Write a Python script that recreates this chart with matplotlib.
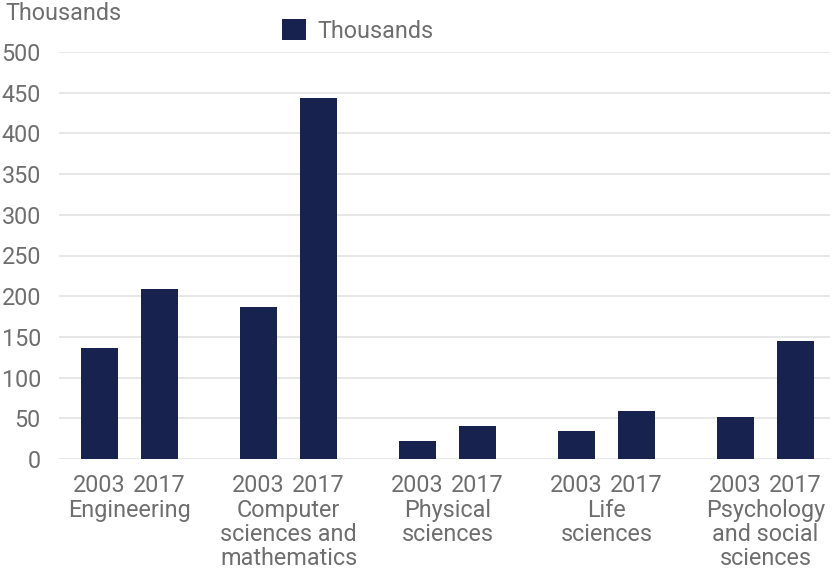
import numpy as np
import matplotlib.pyplot as plt

plt.rcParams['font.family'] = ['Roboto', 'DejaVu Sans']

categories = ['Engineering', 'Computer\nsciences and\nmathematics', 'Physical\nsciences',
              'Life\nsciences', 'Psychology\nand social\nsciences']
years = ['2003', '2017']
values_2003 = [136, 187, 22, 34, 52]
values_2017 = [209, 444, 40, 59, 145]

navy = '#18224f'
grey = '#6e6e6e'
fs = 16.8

fig = plt.figure(figsize=(8.35, 5.71), dpi=100)
ax = fig.add_axes([59 / 835, 1 - 459 / 571, 771 / 835, 407 / 571])

group_gap = 2.65
centers = np.arange(len(categories)) * group_gap
x03 = centers - 0.5
x17 = centers + 0.5

ax.bar(x03, values_2003, width=0.63, color=navy, label='Thousands', zorder=3)
ax.bar(x17, values_2017, width=0.63, color=navy, zorder=3)

ax.set_ylim(0, 500)
ax.set_xlim(-1.175, 11.675)
ax.set_yticks(range(0, 501, 50))
ax.grid(axis='y', color='#e3e3e3', linewidth=1.2, zorder=0)
for s in ax.spines.values():
    s.set_visible(False)
ax.tick_params(axis='y', length=0, pad=13, labelsize=fs, labelcolor=grey)
ax.tick_params(axis='x', length=0, pad=11, labelsize=fs, labelcolor=grey)

ax.set_xticks(np.concatenate([x03, x17]))
ax.set_xticklabels([years[0]] * len(x03) + [years[1]] * len(x17))

# category names under each pair of year labels
for c, name in zip(centers, categories):
    ax.annotate(name, xy=(c, 0), xycoords=('data', 'axes fraction'),
                xytext=(0, -28.5), textcoords='offset points',
                ha='center', va='top', fontsize=fs, color=grey, linespacing=1.07)

fig.text(5 / 835, 1 - 13 / 571, 'Thousands', ha='left', va='center', fontsize=fs, color=grey)

ax.legend(loc='center', bbox_to_anchor=(358 / 835, 1 - 31 / 571),
          bbox_transform=fig.transFigure, frameon=False, fontsize=fs,
          labelcolor=grey, handlelength=1.0, handleheight=1.0, handletextpad=0.5)

fig.savefig('out.png', dpi=100)
